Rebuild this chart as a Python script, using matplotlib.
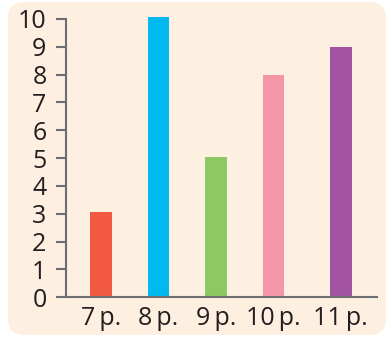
import matplotlib.pyplot as plt
from matplotlib.patches import FancyBboxPatch

categories = ['7\u2009p.', '8\u2009p.', '9\u2009p.', '10\u2009p.', '11\u2009p.']
values = [3.07, 10.08, 5.05, 8.0, 9.0]
colors = ['#F15A40', '#00B9F0', '#8DC863', '#F596A8', '#A254A2']
# horizontal placement of the bars (last one sits a bit further out)
xpos = [0, 1, 2, 3, 4.17]

plt.rcParams['font.family'] = ['Open Sans', 'DejaVu Sans']

fig = plt.figure(figsize=(3.87, 3.37), dpi=100)
fig.patch.set_facecolor('white')

bg = FancyBboxPatch((8 / 387, 2 / 337), 378 / 387, 333 / 337,
                    boxstyle='round,pad=0,rounding_size=0.045',
                    transform=fig.transFigure, facecolor='#FDF0E1',
                    edgecolor='none', zorder=-5)
fig.patches.append(bg)

ax = fig.add_axes([66 / 387, 1 - 297.3 / 337, (377 - 66) / 387, (297.3 - 19) / 337])
ax.set_facecolor('none')
ax.set_zorder(2)

ax.bar(xpos, values, width=0.38, color=colors, clip_on=False, zorder=2)

ax.set_xlim(-0.61, 4.8)
ax.set_ylim(0, 10)
ax.set_yticks(range(0, 11))
ax.set_xticks(xpos)
ax.set_xticklabels(categories)

axis_col = '#6D6E71'
for s in ['top', 'right']:
    ax.spines[s].set_visible(False)
for s in ['left', 'bottom']:
    ax.spines[s].set_color(axis_col)
    ax.spines[s].set_linewidth(1.5)

ax.tick_params(axis='y', length=7, width=1.5, color=axis_col, labelsize=18,
               labelcolor='#231F20', pad=7)
ax.tick_params(axis='x', length=0, labelsize=18, labelcolor='#231F20', pad=6)

fig.savefig('out.png', dpi=100, facecolor='white')
